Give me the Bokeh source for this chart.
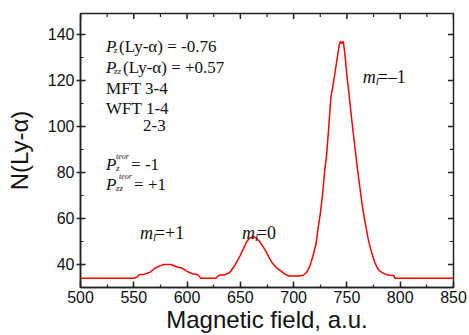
import math
from bokeh.plotting import figure
from bokeh.models import Range1d, SingleIntervalTicker, Label
from bokeh.embed import file_html
from bokeh.resources import INLINE

# ---- data ----
field = [500, 550, 553, 555, 560, 565, 570, 575, 578, 585, 590, 595, 600, 605, 610,
         613, 620, 627, 630, 635, 640, 644, 647, 650, 653, 656, 659, 662, 665, 668,
         671, 674, 677, 680, 684, 688, 692, 696, 705, 709, 712, 715, 718, 721, 723,
         725, 727, 729, 731, 733, 735, 737, 739, 741, 743, 744, 745, 746.5, 748, 750,
         752, 754, 756, 758, 760, 762, 764, 766, 768, 770, 772, 774, 776, 778, 780,
         783, 786, 790, 794, 795, 850]
counts = [34, 34, 34.5, 35.5, 35.8, 36.5, 38.5, 39.5, 40, 40, 39, 38.5, 37, 36, 35.5,
          34, 34, 34, 35.3, 35.5, 36.5, 39, 41.5, 44, 47, 50, 51.5, 52.2, 51.5, 50,
          48, 45.7, 43, 40.6, 38.5, 37.2, 35.7, 35, 35, 35.3, 36.5, 39, 43.5, 49, 56,
          62, 70, 80, 88, 100, 113, 118, 124, 130, 136, 137, 136, 137, 132, 122,
          114, 105, 97, 89, 81, 74, 67, 61, 56, 51, 47, 44, 41, 39, 37.5,
          36.5, 35.8, 35.3, 35.2, 34, 34]

x_ticks = [500, 550, 600, 650, 700, 750, 800, 850]
x_minor = [525, 575, 625, 675, 725, 775, 825]
y_ticks = [40, 60, 80, 100, 120, 140]
y_minor = [30, 50, 70, 90, 110, 130]
x_min, x_max = 500, 850
y_min, y_max = 30, 149.1
x_title = "Magnetic field, a.u."
y_title = "N(Ly-α)"

SERIF = "Liberation Serif"
SANS = "Liberation Sans"
AXC = "#222222"
TXT = "#111111"

p = figure(width=469, height=335, output_backend="svg", toolbar_location=None,
           x_range=Range1d(x_min, x_max), y_range=Range1d(y_min, y_max),
           x_axis_label=x_title, y_axis_label=y_title,
           min_border_left=80, min_border_right=16, min_border_top=13,
           min_border_bottom=0)
p.background_fill_color = "white"
p.border_fill_color = "white"
p.outline_line_color = AXC
p.outline_line_width = 1.5
p.grid.visible = False

xa = p.xaxis[0]
xa.ticker = SingleIntervalTicker(interval=50, num_minor_ticks=2)
xa.major_label_overrides = {v: str(v) for v in x_ticks}
xa.axis_label_text_font = SANS
xa.axis_label_text_font_size = "24px"
xa.axis_label_text_font_style = "normal"
xa.axis_label_text_color = TXT
xa.axis_label_standoff = 0
xa.major_label_text_font = SANS
xa.major_label_text_font_size = "16px"
xa.major_label_text_color = TXT
xa.major_label_standoff = 3
xa.major_tick_in = 6
xa.major_tick_out = 0
xa.minor_tick_in = 3
xa.minor_tick_out = 0

ya = p.yaxis[0]
ya.ticker = SingleIntervalTicker(interval=20, num_minor_ticks=2)
ya.major_label_overrides = {v: str(v) for v in y_ticks}
ya.axis_label_text_font = SANS
ya.axis_label_text_font_size = "24px"
ya.axis_label_text_font_style = "normal"
ya.axis_label_text_color = TXT
ya.axis_label_standoff = 12
ya.major_label_text_font = SANS
ya.major_label_text_font_size = "16px"
ya.major_label_text_color = TXT
ya.major_label_standoff = 2
ya.major_tick_in = 5
ya.major_tick_out = 4
ya.minor_tick_in = 3
ya.minor_tick_out = 0

for ax in (xa, ya):
    ax.axis_line_color = AXC
    ax.axis_line_width = 1.5
    ax.major_tick_line_color = AXC
    ax.major_tick_line_width = 1.5
    ax.minor_tick_line_color = AXC
    ax.minor_tick_line_width = 1.2

# inward ticks on the top and right frame edges (half of each dash is clipped)
p.scatter(x_ticks, [y_max] * len(x_ticks), marker="dash", size=11, angle=math.pi / 2,
          line_color=AXC, line_width=1.5)
p.scatter(x_minor, [y_max] * len(x_minor), marker="dash", size=7, angle=math.pi / 2,
          line_color=AXC, line_width=1.2)
p.scatter([x_max] * len(y_ticks), y_ticks, marker="dash", size=11,
          line_color=AXC, line_width=1.5)
p.scatter([x_max] * len(y_minor), y_minor, marker="dash", size=7,
          line_color=AXC, line_width=1.2)

p.line(field, counts, line_color="#ff0000", line_width=1.5)


def lab(x, y, text, size=17, style="normal", dx=0, dy=0):
    p.add_layout(Label(x=x, y=y, text=text, x_offset=dx, y_offset=dy,
                       text_font=SERIF, text_font_size=f"{size}px",
                       text_font_style=style, text_color=TXT,
                       text_baseline="alphabetic", text_align="left"))


x0 = 524
# line 1
lab(x0, 134.8, "P", style="italic")
lab(x0, 134.8, "z", size=9, style="italic", dx=8, dy=-4)
lab(x0, 134.8, "(Ly-α) = -0.76", dx=13)
# line 2
lab(x0, 125.7, "P", style="italic")
lab(x0, 125.7, "zz", size=9, style="italic", dx=8, dy=-4)
lab(x0, 125.7, "(Ly-α) = +0.57", dx=17)
# lines 3-5
lab(x0, 116.7, "MFT 3-4")
lab(x0, 107.8, "WFT 1-4")
lab(x0, 100.4, "2-3", dx=37)
# line 6
lab(x0, 83.5, "P", style="italic")
lab(x0, 83.5, "z", size=9, style="italic", dx=10, dy=-4)
lab(x0, 83.5, "teor", size=8, style="italic", dx=10, dy=8)
lab(x0, 83.5, "= -1", dx=25)
# line 7
lab(x0, 74.8, "P", style="italic")
lab(x0, 74.8, "zz", size=9, style="italic", dx=10, dy=-4)
lab(x0, 74.8, "teor", size=8, style="italic", dx=13, dy=8)
lab(x0, 74.8, "= +1", dx=28)

# peak labels
for (mx, my, rest) in [(555.8, 53.5, "=+1"), (651.5, 53.5, "=0"), (764.8, 121.5, "=–1")]:
    lab(mx, my, "m", size=18, style="italic")
    lab(mx, my, "l", size=11, style="italic", dx=13, dy=-4)
    lab(mx, my, rest, size=18, dx=15)

open("out.html", "w").write(file_html(p, INLINE))
